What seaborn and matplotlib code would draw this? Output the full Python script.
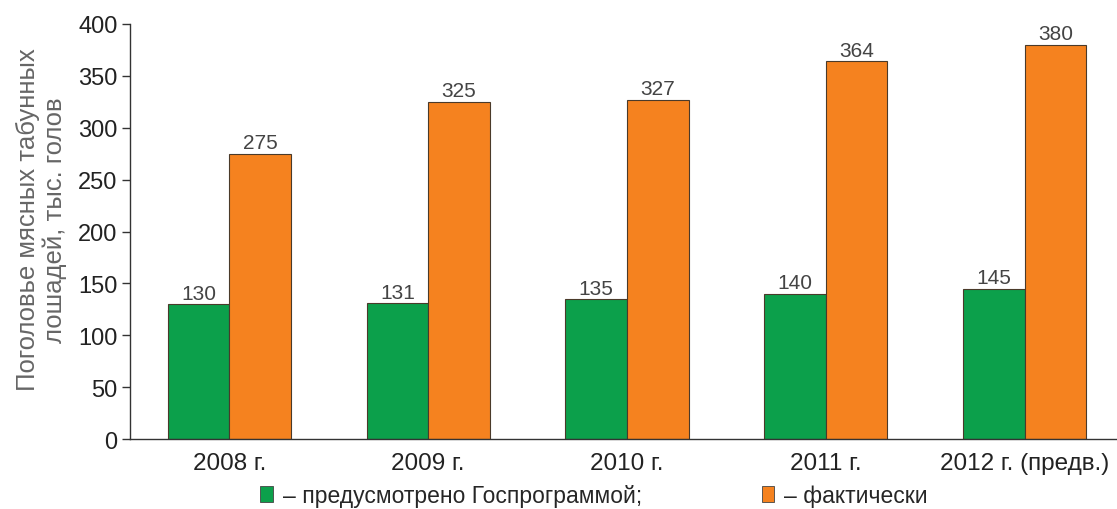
import matplotlib
matplotlib.use("Agg")
import matplotlib.pyplot as plt
import seaborn as sns
import pandas as pd
from matplotlib.patches import Patch

years = ["2008 г.", "2009 г.", "2010 г.", "2011 г.", "2012 г. (предв.)"]
planned = [130, 131, 135, 140, 145]
actual = [275, 325, 327, 364, 380]
series_names = ["– предусмотрено Госпрограммой;", "– фактически"]
yticks = [0, 50, 100, 150, 200, 250, 300, 350, 400]

df = pd.DataFrame({
    "year": years * 2,
    "value": planned + actual,
    "series": [series_names[0]] * len(years) + [series_names[1]] * len(years),
})

sns.set_theme(style="white")
plt.rcParams['font.family'] = ['Liberation Sans', 'DejaVu Sans']

colors = ["#0ca04b", "#f5821f"]
fig = plt.figure(figsize=(11.17, 5.10), dpi=100)
ax = fig.add_axes([0.1164, 0.137, 0.8836, 0.814])

sns.barplot(data=df, x="year", y="value", hue="series", order=years,
            hue_order=series_names, palette=colors, saturation=1, width=0.62,
            edgecolor="#4a3a2a", linewidth=0.8, ax=ax, legend=False)

for cont in ax.containers:
    ax.bar_label(cont, fmt="%d", padding=1, fontsize=15, color="#444444")

ax.set_ylim(0, 400)
ax.set_yticks(yticks)
ax.set_xlim(-0.5, 4.465)
ax.set_xticks(range(len(years)))
ax.set_xticklabels(years, fontsize=17.5, color="#222222")
ax.set_xticks([i - 0.5 for i in range(len(years))], minor=True)
ax.tick_params(axis="x", which="major", length=0, pad=9)
ax.tick_params(axis="x", which="minor", length=6, width=1, color="#333333", direction="out")
ax.tick_params(axis="y", length=6, width=1, color="#333333", direction="out",
               labelsize=17, labelcolor="#222222", left=True, pad=3)
for s in ["top", "right"]:
    ax.spines[s].set_visible(False)
for s in ["left", "bottom"]:
    ax.spines[s].set_color("#333333")
    ax.spines[s].set_linewidth(1)
ax.set_xlabel("")
ax.set_ylabel("Поголовье мясных табунных\nлошадей, тыс. голов", fontsize=18.5,
              color="#666666", linespacing=1.1)
ax.yaxis.set_label_coords(-0.064, 0.53)

handles = [Patch(facecolor=colors[0], edgecolor="#444444", linewidth=0.6),
           Patch(facecolor=colors[1], edgecolor="#444444", linewidth=0.6)]
fig.legend(handles, series_names, loc="lower center", ncol=2, frameon=False,
           bbox_to_anchor=(0.532, -0.036), handlelength=0.55,
           handleheight=0.7, handletextpad=0.45, columnspacing=5.2,
           prop={'size': 16.5})

fig.savefig("out.png", dpi=100)
